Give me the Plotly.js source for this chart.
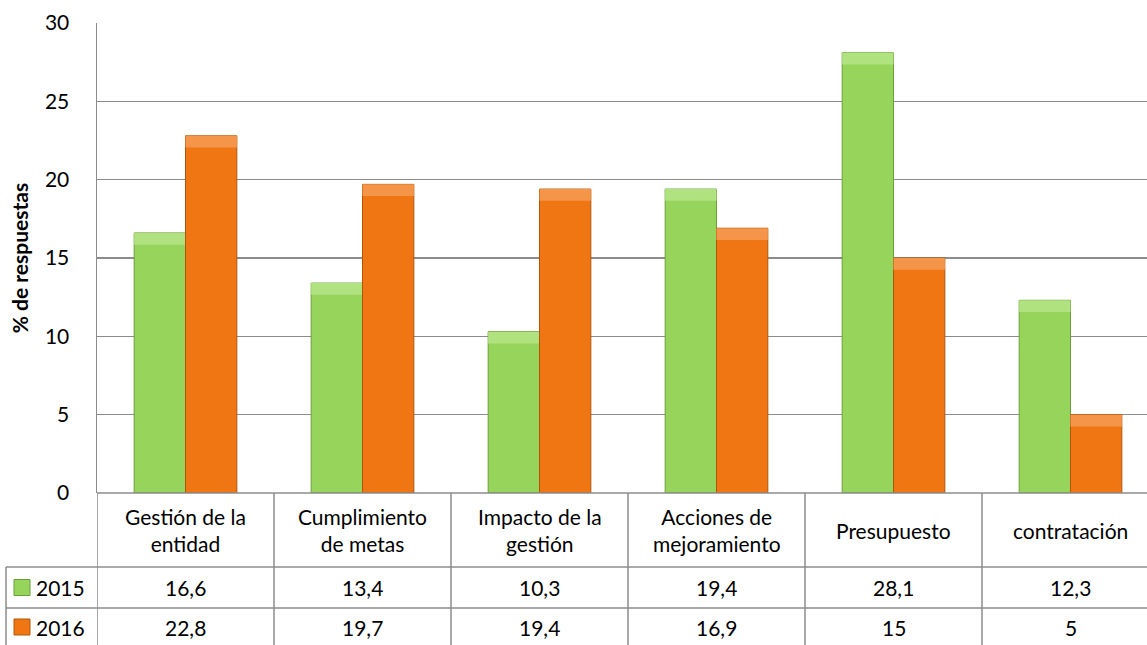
<!DOCTYPE html>
<html>
<head>
<meta charset="utf-8">
<script src="https://cdn.plot.ly/plotly-3.0.1.min.js"></script>
<style>
html,body{margin:0;padding:0;overflow:hidden;background:#fff;}
#chart{width:1160px;height:645px;}
</style>
</head>
<body>
<div id="chart"></div>
<script>
const categories = ["Gestión de la entidad","Cumplimiento de metas","Impacto de la gestión","Acciones de mejoramiento","Presupuesto","contratación"];
const headerLabels = ["Gestión de la<br>entidad","Cumplimiento<br>de metas","Impacto de la<br>gestión","Acciones de<br>mejoramiento","Presupuesto","contratación"];
const seriesNames = ["2015","2016"];
const values2015 = [16.6, 13.4, 10.3, 19.4, 28.1, 12.3];
const values2016 = [22.8, 19.7, 19.4, 16.9, 15, 5];
const tableText2015 = ["16,6","13,4","10,3","19,4","28,1","12,3"];
const tableText2016 = ["22,8","19,7","19,4","16,9","15","5"];
const yTicks = [0,5,10,15,20,25,30];

const FONT = "Lato, 'Open Sans', sans-serif";
const green = "#97D45B", greenEdge = "#6A9F3A", greenTop = "#B0E280";
const orange = "#EF7613", orangeEdge = "#B0560B", orangeTop = "#F4954A";
const bevel = 0.75;

const traces = [
  {type:"bar", name:seriesNames[0], x:categories, y:values2015, offsetgroup:"a",
   marker:{color:green, line:{color:greenEdge, width:1}}, hoverinfo:"y"},
  {type:"bar", name:seriesNames[0]+" top", x:categories, y:values2015.map(()=>bevel),
   base:values2015.map(v=>v-bevel), offsetgroup:"a",
   marker:{color:greenTop, line:{color:greenEdge, width:0}}, hoverinfo:"skip", showlegend:false},
  {type:"bar", name:seriesNames[1], x:categories, y:values2016, offsetgroup:"b",
   marker:{color:orange, line:{color:orangeEdge, width:1}}, hoverinfo:"y"},
  {type:"bar", name:seriesNames[1]+" top", x:categories, y:values2016.map(()=>bevel),
   base:values2016.map(v=>v-bevel), offsetgroup:"b",
   marker:{color:orangeTop, line:{color:orangeEdge, width:0}}, hoverinfo:"skip", showlegend:false}
];

// table geometry (paper units, plot height 470px, plot width 1062px)
const H = 470, W = 1062;
const yHeaderBottom = -(567-493)/H;
const yRow1Bottom = -(608-493)/H;
const yBottom = -(650-493)/H;
const xLeftOuter = (6-97)/W;
const lineCol = "#8C8C8C";

const shapes = [];
shapes.push({type:"line", xref:"paper", yref:"paper", x0:0, x1:1, y0:0, y1:0, line:{color:lineCol, width:1.5}});
shapes.push({type:"line", xref:"paper", yref:"paper", x0:xLeftOuter, x1:1, y0:yHeaderBottom, y1:yHeaderBottom, line:{color:lineCol, width:1.5}});
shapes.push({type:"line", xref:"paper", yref:"paper", x0:xLeftOuter, x1:1, y0:yRow1Bottom, y1:yRow1Bottom, line:{color:lineCol, width:1.5}});
for (let i=0;i<=categories.length;i++){
  shapes.push({type:"line", xref:"x", yref:"paper", x0:i-0.5, x1:i-0.5, y0:0, y1:yBottom, line:{color:lineCol, width:1.5}});
}
shapes.push({type:"line", xref:"paper", yref:"paper", x0:xLeftOuter, x1:xLeftOuter, y0:yHeaderBottom, y1:yBottom, line:{color:lineCol, width:1.5}});
const keyColors = [[green, greenEdge],[orange, orangeEdge]];
const rowCenters = [-(587.5-493)/H, -(627-493)/H];
keyColors.forEach((c,k)=>{
  const yc = rowCenters[k];
  shapes.push({type:"rect", xref:"paper", yref:"paper",
    x0:(14-97)/W, x1:(30-97)/W, y0:yc-8/H, y1:yc+8/H,
    fillcolor:c[0], line:{color:c[1], width:1}});
});

const annotations = [];
headerLabels.forEach((t,i)=>{
  annotations.push({x:categories[i], y:-(530-493)/H, xref:"x", yref:"paper", text:t, showarrow:false,
    font:{family:FONT, size:21, color:"#000"}, align:"center", yanchor:"middle"});
  annotations.push({x:categories[i], y:rowCenters[0], xref:"x", yref:"paper", text:tableText2015[i], showarrow:false,
    font:{family:FONT, size:21, color:"#000"}, yanchor:"middle"});
  annotations.push({x:categories[i], y:rowCenters[1], xref:"x", yref:"paper", text:tableText2016[i], showarrow:false,
    font:{family:FONT, size:21, color:"#000"}, yanchor:"middle"});
});
seriesNames.forEach((n,k)=>{
  annotations.push({x:(34-97)/W, y:rowCenters[k], xref:"paper", yref:"paper", text:n, showarrow:false,
    xanchor:"left", yanchor:"middle", font:{family:FONT, size:21, color:"#000"}});
});

const layout = {
  width:1160, height:645,
  margin:{l:97, r:1, t:23, b:152, pad:0},
  paper_bgcolor:"#fff", plot_bgcolor:"#fff",
  barmode:"group", bargap:0.42, bargroupgap:0,
  showlegend:false,
  font:{family:FONT, color:"#000"},
  xaxis:{type:"category", range:[-0.5, categories.length-0.5], showticklabels:false, showgrid:false,
    zeroline:false, showline:false, ticks:"", fixedrange:true},
  yaxis:{range:[0,30], tickvals:yTicks, showgrid:true, gridcolor:lineCol, gridwidth:1.5,
    zeroline:false, showline:true, linecolor:lineCol, linewidth:1.5,
    ticks:"outside", ticklen:22, tickcolor:"rgba(0,0,0,0)",
    tickfont:{family:FONT, size:21, color:"#000"},
    title:{text:"<b>% de respuestas</b>", font:{family:FONT, size:21, color:"#000"}, standoff:10},
    fixedrange:true},
  shapes:shapes,
  annotations:annotations
};

Plotly.newPlot("chart", traces, layout, {displayModeBar:false, staticPlot:true});
</script>
</body>
</html>
